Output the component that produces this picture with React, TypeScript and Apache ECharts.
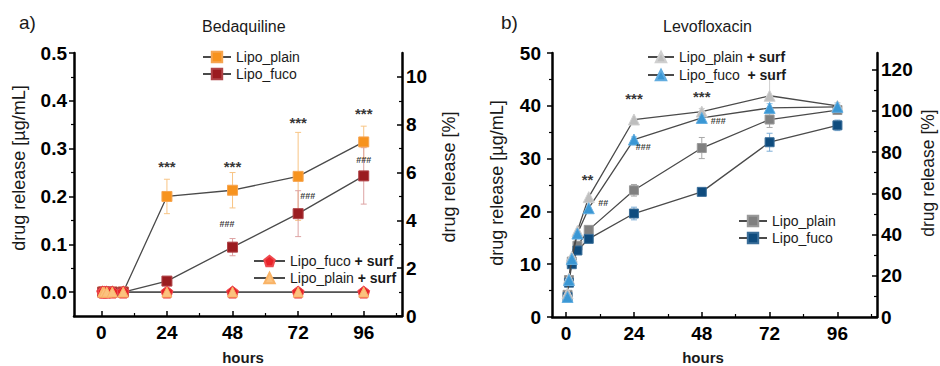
import React, { useEffect, useRef } from "react";
import * as echarts from "echarts";

const FONT = "'Liberation Sans', Arial, Helvetica, sans-serif";

// sampling times [h]
const hours = [0.5, 1, 2, 4, 8, 24, 48, 72, 96];

// a) Bedaquiline, drug release [µg/mL]
const bedaPlain = [0, 0, 0, 0, 0, 0.2, 0.213, 0.242, 0.314];
const bedaPlainErr = [0, 0, 0, 0, 0, 0.036, 0.037, 0.092, 0.033];
const bedaFuco = [0, 0, 0, 0, 0, 0.023, 0.094, 0.164, 0.243];
const bedaFucoErr = [0, 0, 0, 0, 0, 0.004, 0.018, 0.048, 0.059];
const bedaFucoSurf = [0, 0, 0, 0, 0, 0, 0, 0, 0];
const bedaPlainSurf = [0, 0, 0, 0, 0, 0, 0, 0, 0];

// b) Levofloxacin, drug release [µg/mL]
const levoPlain = [4.2, 7.0, 10.5, 13.5, 16.5, 24.0, 32.0, 37.4, 39.2];
const levoPlainErr = [0.3, 0.3, 0.5, 0.5, 0.6, 1.1, 2.0, 1.5, 0.8];
const levoFuco = [3.8, 6.5, 10.0, 12.6, 14.8, 19.6, 23.7, 33.1, 36.3];
const levoFucoErr = [0.3, 0.3, 0.4, 0.5, 0.5, 1.2, 0.5, 1.7, 1.0];
const levoPlainSurf = [4.5, 7.3, 11.4, 16.3, 22.7, 37.4, 38.9, 41.9, 40.0];
const levoPlainSurfErr = [0, 0, 0, 0, 0, 0, 0.6, 3.8, 0.6];
const levoFucoSurf = [3.8, 7.0, 11.0, 15.8, 20.6, 33.6, 37.7, 39.6, 39.8];
const levoFucoSurfErr = [0, 0, 0, 0, 0, 0.5, 0.5, 0.8, 0.5];

// axis ticks
const xMajor = [0, 24, 48, 72, 96];
const xMinor = [12, 36, 60, 84, 108];
const bedaLeftMajor = [0, 0.1, 0.2, 0.3, 0.4, 0.5];
const bedaLeftMinor = [0.05, 0.15, 0.25, 0.35, 0.45];
const bedaRightMajor = [0, 2, 4, 6, 8, 10];
const bedaRightMinor = [1, 3, 5, 7, 9];
const levoLeftMajor = [0, 10, 20, 30, 40, 50];
const levoLeftMinor = [5, 15, 25, 35, 45];
const levoRightMajor = [0, 20, 40, 60, 80, 100, 120];
const levoRightMinor = [10, 30, 50, 70, 90, 110];

// significance marks
const bedaStars = [
  { x: 24, y: 0.262, t: "***" },
  { x: 48, y: 0.262, t: "***" },
  { x: 72, y: 0.354, t: "***" },
  { x: 96, y: 0.373, t: "***" },
];
const bedaHash = [
  { x: 46, y: 0.142, t: "###" },
  { x: 75.5, y: 0.201, t: "###" },
  { x: 96, y: 0.276, t: "###" },
];
const levoStars = [
  { x: 7.6, y: 26.0, t: "**" },
  { x: 24, y: 41.4, t: "***" },
  { x: 48, y: 41.7, t: "***" },
];
const levoHash = [
  { x: 13.1, y: 21.6, t: "##" },
  { x: 27.3, y: 32.2, t: "###" },
  { x: 53.8, y: 37.1, t: "###" },
];

const legendNames: Record<string, string> = {
  a_plain: "{r|Lipo_plain}",
  a_fuco: "{r|Lipo_fuco}",
  a_fuco_surf: "{r|Lipo_fuco} {b|+ surf}",
  a_plain_surf: "{r|Lipo_plain} {b|+ surf}",
  b_plain_surf: "{r|Lipo_plain} {b|+ surf}",
  b_fuco_surf: "{r|Lipo_fuco}  {b|+ surf}",
  b_plain: "{r|Lipo_plain}",
  b_fuco: "{r|Lipo_fuco}",
};

const PENTAGON =
  "path://M0,-1 L0.951,-0.309 L0.588,0.809 L-0.588,0.809 L-0.951,-0.309 Z";
const LINE = "#4a4a4a";

function lineSeries(
  name: string,
  values: number[],
  symbol: string,
  size: number,
  color: string,
  border: string,
  xi: number,
  yi: number,
  z: number
) {
  return {
    type: "line",
    name,
    data: hours.map((h, i) => [h, values[i]]),
    xAxisIndex: xi,
    yAxisIndex: yi,
    symbol,
    symbolSize: size,
    showSymbol: true,
    lineStyle: { color: LINE, width: 1.3 },
    itemStyle: { color, borderColor: border, borderWidth: 1, opacity: 1 },
    emphasis: { disabled: true },
    z,
    silent: true,
  };
}

function errSeries(values: number[], errs: number[], color: string, xi: number, yi: number) {
  const data = hours
    .map((h, i) => [h, values[i] - errs[i], values[i] + errs[i], errs[i]])
    .filter((d) => d[3] > 0);
  return {
    type: "custom",
    xAxisIndex: xi,
    yAxisIndex: yi,
    data,
    encode: { x: 0, y: [1, 2] },
    z: 1,
    silent: true,
    renderItem: (params: any, api: any) => {
      const x = api.value(0);
      const lo = api.coord([x, api.value(1)]);
      const hi = api.coord([x, api.value(2)]);
      const w = 3;
      const st = { stroke: color, lineWidth: 1 };
      return {
        type: "group",
        children: [
          { type: "line", shape: { x1: lo[0], y1: lo[1], x2: hi[0], y2: hi[1] }, style: st },
          { type: "line", shape: { x1: lo[0] - w, y1: lo[1], x2: lo[0] + w, y2: lo[1] }, style: st },
          { type: "line", shape: { x1: hi[0] - w, y1: hi[1], x2: hi[0] + w, y2: hi[1] }, style: st },
        ],
      };
    },
  };
}

function markSeries(marks: { x: number; y: number; t: string }[], size: number, xi: number, yi: number, bold: boolean) {
  return {
    type: "scatter",
    xAxisIndex: xi,
    yAxisIndex: yi,
    data: marks.map((m) => ({ value: [m.x, m.y], name: m.t })),
    symbolSize: 1,
    itemStyle: { color: "rgba(0,0,0,0)" },
    silent: true,
    z: 5,
    label: {
      show: true,
      position: "inside",
      formatter: "{b}",
      fontSize: size,
      fontFamily: FONT,
      fontWeight: bold ? "bold" : "normal",
      color: "#000",
    },
  };
}

const axisLine = { show: true, onZero: false, lineStyle: { color: "#000", width: 2.5 } };
const noLine = { show: false, onZero: false };
const tickLabel = (margin: number, fmt?: (v: number) => string) => ({
  fontSize: 19,
  fontWeight: "bold",
  fontFamily: FONT,
  color: "#000",
  margin,
  formatter: fmt,
});

function majorX(gi: number, min: number, max: number) {
  return {
    type: "value",
    gridIndex: gi,
    min,
    max,
    position: "bottom",
    axisLine,
    splitLine: { show: false },
    axisTick: { show: true, inside: true, length: 5, customValues: xMajor, lineStyle: { color: "#000", width: 1.5 } },
    axisLabel: { ...tickLabel(7), customValues: xMajor },
  };
}
function minorX(gi: number, min: number, max: number) {
  return {
    type: "value",
    gridIndex: gi,
    min,
    max,
    position: "bottom",
    axisLine: noLine,
    splitLine: { show: false },
    axisTick: { show: true, inside: true, length: 3, customValues: xMinor, lineStyle: { color: "#000", width: 1.2 } },
    axisLabel: { show: false },
  };
}
function majorY(gi: number, pos: string, min: number, max: number, ticks: number[], inside: boolean, margin: number, fmt?: (v: number) => string) {
  return {
    type: "value",
    gridIndex: gi,
    position: pos,
    min,
    max,
    axisLine,
    splitLine: { show: false },
    axisTick: { show: true, inside, length: 5, customValues: ticks, lineStyle: { color: "#000", width: 1.5 } },
    axisLabel: { ...tickLabel(margin, fmt), customValues: ticks },
  };
}
function minorY(gi: number, pos: string, min: number, max: number, ticks: number[], inside: boolean) {
  return {
    type: "value",
    gridIndex: gi,
    position: pos,
    min,
    max,
    axisLine: noLine,
    splitLine: { show: false },
    axisTick: { show: true, inside, length: 3, customValues: ticks, lineStyle: { color: "#000", width: 1.2 } },
    axisLabel: { show: false },
  };
}

const legendText = {
  fontFamily: FONT,
  fontSize: 14,
  color: "#1a1a1a",
  rich: {
    r: { fontFamily: FONT, fontSize: 14, color: "#1a1a1a", lineHeight: 14 },
    b: { fontFamily: FONT, fontSize: 14, fontWeight: "bold", color: "#1a1a1a", lineHeight: 14 },
  },
};
function legend(data: string[], left: number, top: number, itemWidth: number, gap: number) {
  return {
    data,
    left,
    top,
    orient: "vertical",
    itemWidth,
    itemHeight: 13,
    itemGap: gap,
    selectedMode: false,
    formatter: (n: string) => legendNames[n],
    textStyle: legendText,
  };
}

function axisName(text: string, x: number, y: number, rot: number, bold = false, size = 16) {
  return {
    type: "text",
    x,
    y,
    rotation: rot,
    silent: true,
    style: {
      text,
      fill: "#1a1a1a",
      font: `${bold ? "bold " : ""}${size}px ${FONT}`,
      align: "center",
      verticalAlign: "middle",
    },
  };
}

export default function App() {
  const ref = useRef<HTMLDivElement>(null);
  useEffect(() => {
    if (!ref.current) return;
    const chart = echarts.init(ref.current, undefined, { renderer: "svg" });
    const gA = { left: 74, top: 53, width: 328, height: 263 };
    const gB = { left: 552, top: 53, width: 325, height: 264 };
    const option: any = {
      animation: false,
      backgroundColor: "#fff",
      title: [
        { text: "a)", left: 14, top: 8, textStyle: { fontFamily: FONT, fontSize: 19, fontWeight: "normal", color: "#1a1a1a" } },
        { text: "Bedaquiline", left: 197, top: 13, textStyle: { fontFamily: FONT, fontSize: 16, fontWeight: "normal", color: "#1a1a1a" } },
        { text: "b)", left: 496, top: 8, textStyle: { fontFamily: FONT, fontSize: 19, fontWeight: "normal", color: "#1a1a1a" } },
        { text: "Levofloxacin", left: 658, top: 13, textStyle: { fontFamily: FONT, fontSize: 16, fontWeight: "normal", color: "#1a1a1a" } },
      ],
      grid: [gA, gB, gA, gB].map((g) => ({ ...g, containLabel: false })),
      xAxis: [majorX(0, -10, 110), majorX(1, -5, 110), minorX(2, -10, 110), minorX(3, -5, 110)],
      yAxis: [
        majorY(0, "left", -0.05, 0.5, bedaLeftMajor, false, 7, (v: number) => v.toFixed(1)),
        majorY(0, "right", 0, 11, bedaRightMajor, true, 4),
        majorY(1, "left", 0, 50, levoLeftMajor, false, 11),
        majorY(1, "right", 0, 128, levoRightMajor, true, 4),
        minorY(2, "left", -0.05, 0.5, bedaLeftMinor, false),
        minorY(2, "right", 0, 11, bedaRightMinor, true),
        minorY(3, "left", 0, 50, levoLeftMinor, false),
        minorY(3, "right", 0, 128, levoRightMinor, true),
      ],
      legend: [
        legend(["a_plain", "a_fuco"], 197, 45, 28, 3),
        legend(["a_fuco_surf", "a_plain_surf"], 248, 249, 31, 3),
        legend(["b_plain_surf", "b_fuco_surf"], 642, 45, 26, 4),
        legend(["b_plain", "b_fuco"], 733, 209, 28, 3),
      ],
      series: [
        errSeries(bedaPlain, bedaPlainErr, "#F8C585", 0, 0),
        errSeries(bedaFuco, bedaFucoErr, "#DDA3A3", 0, 0),
        lineSeries("a_plain", bedaPlain, "rect", 10, "#F7931E", "#F6A550", 0, 0, 3),
        lineSeries("a_fuco", bedaFuco, "rect", 10, "#9B1C20", "#B04448", 0, 0, 3),
        lineSeries("a_fuco_surf", bedaFucoSurf, PENTAGON, 12, "#E8232A", "#EE4A4F", 0, 0, 4),
        lineSeries("a_plain_surf", bedaPlainSurf, "triangle", 10, "#FBC27F", "#F9B366", 0, 0, 4),
        markSeries(bedaStars, 15, 0, 0, true),
        markSeries(bedaHash, 9, 0, 0, true),

        errSeries(levoPlain, levoPlainErr, "#A8A8A8", 1, 2),
        errSeries(levoFuco, levoFucoErr, "#7FAED6", 1, 2),
        errSeries(levoPlainSurf, levoPlainSurfErr, "#CFCFCF", 1, 2),
        errSeries(levoFucoSurf, levoFucoSurfErr, "#8CC3E8", 1, 2),
        lineSeries("b_plain", levoPlain, "rect", 9, "#808080", "#999999", 1, 2, 3),
        lineSeries("b_fuco", levoFuco, "rect", 9, "#0F4C7E", "#3A6E99", 1, 2, 3),
        lineSeries("b_plain_surf", levoPlainSurf, "triangle", 11, "#BEBEBE", "#D0D0D0", 1, 2, 4),
        lineSeries("b_fuco_surf", levoFucoSurf, "triangle", 11, "#3A97D4", "#62ADE0", 1, 2, 4),
        markSeries(levoStars, 15, 1, 2, true),
        markSeries(levoHash, 9, 1, 2, true),
      ],
      graphic: [
        axisName("drug release [µg/mL]", 19, 168, Math.PI / 2, false, 18),
        axisName("drug release [%]", 449, 177, Math.PI / 2, false, 18),
        axisName("drug release [µg/mL]", 497, 183, Math.PI / 2, false, 18),
        axisName("drug release [%]", 928, 173, Math.PI / 2, false, 17.5),
        axisName("hours", 243, 357, 0, true, 15),
        axisName("hours", 703, 357, 0, true, 15),
      ],
    };
    chart.setOption(option);
    return () => chart.dispose();
  }, []);
  return <div ref={ref} style={{ width: 940, height: 366, position: "absolute", left: 0, top: 0 }} />;
}
